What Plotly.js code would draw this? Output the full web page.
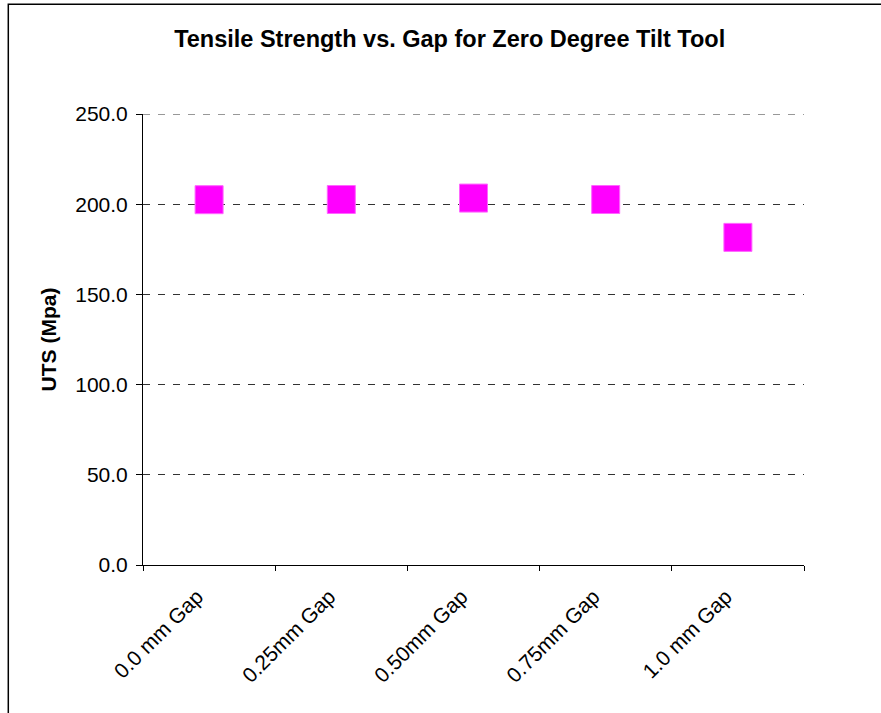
<!DOCTYPE html>
<html>
<head>
<meta charset="utf-8">
<script src="https://cdn.plot.ly/plotly-3.0.1.min.js"></script>
<style>
  html, body { margin: 0; padding: 0; background: #ffffff; }
  #chart { width: 881px; height: 713px; }
</style>
</head>
<body>
<div id="chart"></div>
<script>
// Gap settings tested with the zero degree tilt tool
const gapLabels = ["0.0 mm Gap", "0.25mm Gap", "0.50mm Gap", "0.75mm Gap", "1.0 mm Gap"];
// Ultimate tensile strength for each gap, MPa
const utsValues = [202.5, 202.6, 203.4, 202.6, 181.6];
// Value axis ticks
const yTicks = [0, 50, 100, 150, 200, 250];

const W = 881, H = 713;
const M = { l: 143, r: 77, t: 114, b: 148 };
const plotW = W - M.l - M.r;
const plotH = H - M.t - M.b;
const FONT = "Arial, 'Liberation Sans', Helvetica, sans-serif";
const GRID_DASH = "7px,8px";
const GRID_COLOR = "#333333";

// Frame around the chart area: left and top edges sit a few pixels in from the page corner
const frameLeftPx = 8.3, frameTopPx = 4.3;

const trace = {
  type: "scatter",
  mode: "markers",
  x: gapLabels,
  y: utsValues,
  marker: {
    symbol: "square",
    size: 28,
    color: "#FF00FF",
    line: { color: "#FF66FF", width: 1 }
  },
  hoverinfo: "x+y",
  showlegend: false
};

const yMax = yTicks[yTicks.length - 1];

const layout = {
  width: W,
  height: H,
  margin: M,
  paper_bgcolor: "#ffffff",
  plot_bgcolor: "#ffffff",
  font: { family: FONT, size: 21, color: "#000000" },
  title: {
    text: "<b>Tensile Strength vs. Gap for Zero Degree Tilt Tool</b>",
    font: { family: FONT, size: 23.5, color: "#000000" },
    xref: "paper",
    x: (449.7 - M.l) / plotW,
    xanchor: "center",
    yref: "container",
    y: 1 - 38.7 / H,
    yanchor: "middle"
  },
  xaxis: {
    type: "category",
    range: [-0.5, gapLabels.length - 0.5],
    tickson: "boundaries",
    ticks: "outside",
    ticklen: 5,
    tickwidth: 1,
    tickcolor: "#000000",
    showline: true,
    linecolor: "#000000",
    linewidth: 1,
    showgrid: false,
    zeroline: false,
    tickangle: -45,
    ticklabelshift: -12,
    ticklabelstandoff: 10,
    tickfont: { family: FONT, size: 21, color: "#000000" },
    fixedrange: true
  },
  yaxis: {
    range: [0, yMax],
    tickvals: yTicks,
    ticktext: yTicks.map(v => v.toFixed(1)),
    ticks: "outside",
    ticklen: 6,
    tickwidth: 1,
    tickcolor: "#000000",
    ticklabelstandoff: 4,
    showline: true,
    linecolor: "#000000",
    linewidth: 1,
    showgrid: true,
    gridcolor: GRID_COLOR,
    gridwidth: 1,
    griddash: GRID_DASH,
    zeroline: false,
    tickfont: { family: FONT, size: 21, color: "#000000" },
    title: {
      text: "<b>UTS (Mpa)</b>",
      font: { family: FONT, size: 21, color: "#000000" },
      standoff: 12
    },
    automargin: false,
    fixedrange: true
  },
  shapes: [
    // gridline at the top of the value range (on the plot edge)
    {
      type: "line",
      xref: "paper",
      yref: "y",
      x0: 0,
      x1: 1,
      y0: yMax,
      y1: yMax,
      line: { color: GRID_COLOR, width: 1, dash: GRID_DASH },
      layer: "below"
    },
    {
      type: "rect",
      xref: "paper",
      yref: "paper",
      x0: (frameLeftPx - M.l) / plotW,
      x1: 1 + (M.r + 20) / plotW,
      y0: -(M.b + 20) / plotH,
      y1: 1 + (M.t - frameTopPx) / plotH,
      line: { color: "#000000", width: 1.5 },
      fillcolor: "rgba(0,0,0,0)",
      layer: "below"
    }
  ]
};

Plotly.newPlot("chart", [trace], layout, { staticPlot: true, displayModeBar: false });
</script>
</body>
</html>
